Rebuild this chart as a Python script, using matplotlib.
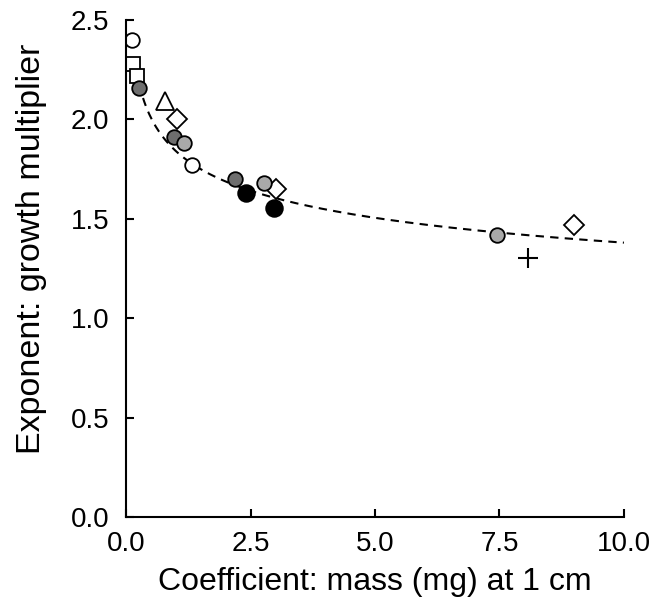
import matplotlib.pyplot as plt
import numpy as np

plt.rcParams['font.family'] = ['Liberation Sans', 'DejaVu Sans']

# points by marker group (x = coefficient, y = exponent)
open_circ_x = [0.12, 1.33]
open_circ_y = [2.40, 1.77]
square_x = [0.14, 0.21]
square_y = [2.28, 2.22]
triangle_x = [0.78]
triangle_y = [2.09]
diamond_x = [1.02, 3.01, 9.00]
diamond_y = [2.00, 1.65, 1.47]
dark_x = [0.25, 0.96, 2.19]
dark_y = [2.16, 1.91, 1.70]
light_x = [1.16, 2.77, 7.44]
light_y = [1.88, 1.68, 1.42]
black_x = [2.41, 2.96]
black_y = [1.63, 1.555]
plus_x = [8.08]
plus_y = [1.305]

# power-law fit y = a * x^b
fit_a = 1.84
fit_b = -0.125

fig = plt.figure(figsize=(6.54, 6.06), dpi=100)
ax = fig.add_axes([0.193, 0.147, 0.761, 0.820])

xf = np.linspace(0.2, 10, 300)
ax.plot(xf, fit_a * xf ** fit_b, 'k--', lw=1.5, dashes=(4, 3), zorder=1)

ms = 10.5
mew = 1.3
ax.plot(open_circ_x, open_circ_y, 'o', ms=ms, mfc='white', mec='black', mew=mew)
ax.plot(square_x, square_y, 's', ms=ms - 1, mfc='white', mec='black', mew=mew)
ax.plot(triangle_x, triangle_y, '^', ms=ms + 2, mfc='white', mec='black', mew=mew)
ax.plot(diamond_x, diamond_y, 'D', ms=ms - 0.5, mfc='white', mec='black', mew=mew)
ax.plot(dark_x, dark_y, 'o', ms=ms, mfc='#6e6e6e', mec='black', mew=mew)
ax.plot(light_x, light_y, 'o', ms=ms, mfc='#a9a9a9', mec='black', mew=mew)
ax.plot(black_x, black_y, 'o', ms=ms + 1.5, mfc='black', mec='black', mew=mew)
ax.plot(plus_x, plus_y, '+', ms=14, mec='black', mew=1.5)

ax.set_xlim(0, 10)
ax.set_ylim(0, 2.5)
ax.set_xticks([0, 2.5, 5, 7.5, 10])
ax.set_xticklabels(['0.0', '2.5', '5.0', '7.5', '10.0'])
ax.set_yticks([0, 0.5, 1.0, 1.5, 2.0, 2.5])
ax.set_yticklabels(['0.0', '0.5', '1.0', '1.5', '2.0', '2.5'])
ax.tick_params(direction='in', length=6, width=1.5, labelsize=20)
ax.tick_params(axis='x', pad=10)
ax.tick_params(axis='y', pad=12)

ax.spines['top'].set_visible(False)
ax.spines['right'].set_visible(False)
ax.spines['left'].set_linewidth(1.5)
ax.spines['bottom'].set_linewidth(1.5)

ax.set_xlabel('Coefficient: mass (mg) at 1 cm', fontsize=23, labelpad=7)
ax.set_ylabel('Exponent: growth multiplier', fontsize=24.5, labelpad=17, y=0.54)

fig.savefig('out.png', dpi=100)
